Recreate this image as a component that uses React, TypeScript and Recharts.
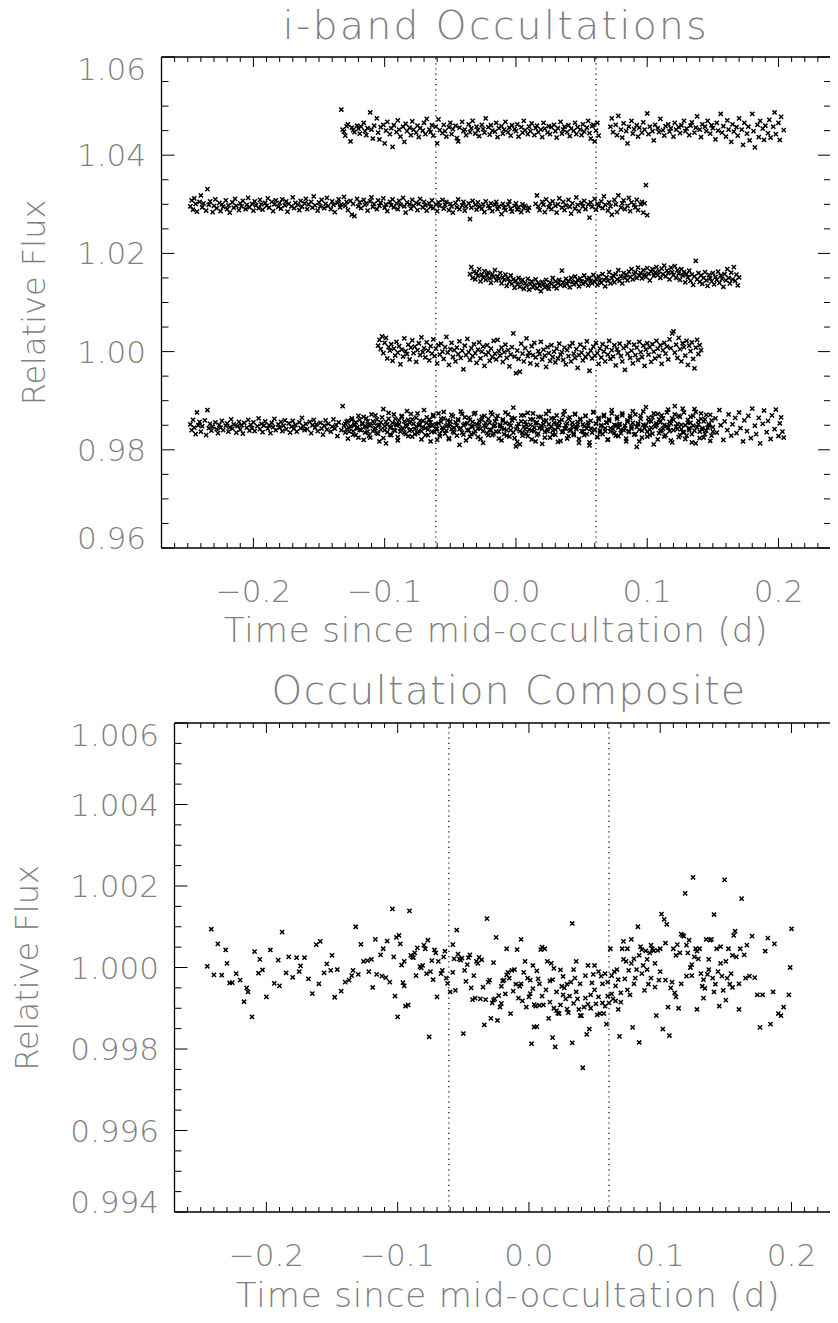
import { ScatterChart, Scatter, XAxis, YAxis, ReferenceLine } from "recharts";

// Top panel: time in milli-days, flux offset from 1 in units of 1e-4
const bandA = [
  -133,493, -132,452, -131,448, -130,440, -129,459, -128,463, -126,428, -125,456, -124,451, -123,447, -121,460, -120,454,
  -119,444, -118,458, -116,466, -115,449, -114,441, -113,455, -111,487, -110,452, -109,434, -108,460, -106,475, -105,446,
  -104,432, -103,457, -101,462, -100,424, -99,450, -98,468, -96,443, -95,455, -94,417, -93,461, -91,447, -90,471,
  -89,452, -88,438, -86,458, -85,427, -84,464, -83,449, -81,456, -80,441, -79,469, -78,452, -76,446, -75,460,
  -74,437, -73,455, -71,450, -70,466, -69,443, -68,474, -66,452, -65,447, -64,461, -63,440, -61,458, -60,424,
  -59,473, -58,451, -56,445, -55,462, -54,449, -53,438, -51,457, -50,466, -49,443, -48,453, -46,460, -45,435,
  -44,428, -43,456, -41,468, -40,449, -39,452, -38,441, -36,463, -35,447, -34,455, -33,470, -31,444, -30,458,
  -29,451, -28,439, -26,462, -25,453, -24,446, -23,475, -21,457, -20,442, -19,461, -18,450, -16,448, -15,466,
  -14,437, -13,455, -11,459, -10,444, -9,452, -8,468, -6,447, -5,456, -4,440, -3,461, -1,453, 0,449,
  1,463, 2,438, 4,457, 5,446, 6,470, 7,451, 9,443, 10,458, 11,449, 12,465, 14,441, 15,455,
  16,460, 17,447, 19,452, 20,437, 21,466, 22,454, 24,446, 25,459, 26,443, 27,457, 29,462, 30,449,
  31,436, 32,455, 34,468, 35,444, 36,452, 37,458, 39,447, 40,461, 41,439, 42,454, 44,450, 45,466,
  46,443, 47,457, 49,452, 50,441, 51,463, 52,448, 54,456, 55,470, 56,445, 57,434, 58,459, 59,462,
  60,428, 61,450, 62,466, 63,440,
  72,458, 73,475, 74,447, 76,462, 77,441, 78,480, 80,452, 81,436, 82,465, 84,449, 85,424, 86,458,
  88,470, 89,444, 90,453, 92,461, 93,438, 94,456, 96,446, 97,467, 98,452, 100,485, 101,443, 102,458,
  104,449, 105,430, 106,462, 108,455, 109,447, 110,474, 112,451, 113,440, 114,459, 116,463, 117,448, 118,455,
  120,438, 121,466, 122,452, 124,457, 125,445, 126,461, 128,470, 129,449, 130,454, 132,441, 133,460, 134,467,
  136,446, 137,456, 138,479, 140,452, 141,437, 142,463, 144,458, 145,449, 146,470, 148,444, 149,461, 150,455,
  152,432, 153,466, 154,450, 156,484, 157,446, 158,459, 160,438, 161,471, 162,452, 164,427, 165,463, 166,448,
  168,457, 169,440, 170,475, 172,452, 173,421, 174,466, 176,444, 177,458, 178,430, 180,484, 181,449, 182,416,
  184,462, 185,437, 186,470, 188,454, 189,431, 190,460, 192,445, 193,472, 194,436, 196,458, 197,487, 198,443,
  200,466, 201,431, 202,478, 204,451,
];

const bandB = [
  -248,296, -247,308, -246,289, -245,312, -244,301, -243,285, -241,305, -240,318, -239,294, -238,302, -236,287, -235,331,
  -234,299, -233,306, -231,284, -230,297, -229,310, -228,292, -226,303, -225,286, -224,300, -223,295, -221,308, -220,290,
  -219,298, -218,283, -216,304, -215,293, -214,311, -213,297, -211,288, -210,302, -209,296, -208,307, -206,290, -205,299,
  -204,313, -203,294, -201,301, -200,287, -199,306, -198,298, -196,292, -195,309, -194,300, -193,289, -191,303, -190,297,
  -189,312, -188,293, -186,305, -185,286, -184,300, -183,308, -181,295, -180,303, -179,291, -178,310, -176,298, -175,306,
  -174,285, -173,301, -171,296, -170,314, -169,292, -168,303, -166,299, -165,288, -164,307, -163,295, -161,302, -160,311,
  -159,290, -158,300, -156,305, -155,293, -154,316, -153,298, -151,287, -150,304, -149,296, -148,309, -146,292, -145,301,
  -144,313, -143,297, -141,290, -140,306, -139,299, -138,284, -136,303, -135,310, -134,294, -133,300, -131,315, -130,297,
  -129,305, -128,288, -126,307, -125,279, -124,301, -123,276, -121,311, -120,296, -119,304, -118,292, -116,309, -115,299,
  -114,302, -113,287, -111,306, -110,314, -109,295, -108,301, -106,290, -105,308, -104,297, -103,303, -101,312, -100,293,
  -99,300, -98,286, -96,305, -95,298, -94,310, -93,294, -91,302, -90,290, -89,307, -88,299, -86,313, -85,296,
  -84,283, -83,304, -81,300, -80,291, -79,309, -78,297, -76,303, -75,288, -74,301, -73,311, -71,294, -70,305,
  -69,298, -68,287, -66,302, -65,295, -64,308, -63,292, -61,300, -60,286, -59,304, -58,297, -56,309, -55,291,
  -54,299, -53,305, -51,288, -50,301, -49,296, -48,283, -46,303, -45,294, -44,310, -43,290, -41,298, -40,305,
  -39,287, -38,296, -36,302, -35,270, -34,293, -33,307, -31,299, -30,289, -29,304, -28,295, -26,291, -25,300,
  -24,284, -23,306, -21,297, -20,292, -19,302, -18,286, -16,299, -15,305, -14,290, -13,296, -11,280, -10,301,
  -9,293, -8,288, -6,299, -5,306, -4,291, -3,285, -1,297, 0,302, 1,289, 2,294, 4,284, 5,300,
  6,292, 7,297, 9,287, 10,293, 15,301, 16,318, 17,296, 18,288, 20,305, 21,299, 22,284, 23,310,
  25,294, 26,302, 27,290, 28,306, 30,297, 31,283, 32,300, 33,312, 35,293, 36,305, 37,288, 38,298,
  40,309, 41,295, 42,281, 43,302, 45,291, 46,314, 47,299, 48,286, 50,303, 51,296, 52,307, 53,290,
  55,300, 56,273, 57,304, 58,295, 60,311, 61,289, 62,301, 63,297, 65,306, 66,292, 67,316, 68,299,
  70,287, 71,304, 72,296, 73,279, 75,309, 76,300, 77,284, 78,318, 80,293, 81,302, 82,308, 83,290,
  85,297, 86,313, 87,286, 88,304, 90,299, 91,294, 92,309, 93,288, 95,300, 96,305, 97,283, 98,302,
  99,339, 100,278,
];

const bandC = [
  -35,158, -34,172, -33,150, -32,163, -31,147, -30,160, -29,154, -28,168, -27,143, -26,157, -25,151, -24,164,
  -23,146, -22,155, -21,161, -20,149, -19,140, -18,158, -17,152, -16,166, -15,145, -14,153, -13,148, -12,160,
  -11,139, -10,151, -9,146, -8,157, -7,134, -6,149, -5,142, -4,155, -3,138, -2,147, -1,130, 0,144,
  1,137, 2,150, 3,132, 4,141, 5,146, 6,128, 7,139, 8,135, 9,148, 10,126, 11,138, 12,143,
  13,131, 14,136, 15,147, 16,129, 17,140, 18,134, 19,123, 20,142, 21,137, 22,131, 23,146, 24,135,
  25,128, 26,141, 27,138, 28,150, 29,133, 30,143, 31,129, 32,139, 33,146, 34,136, 35,165, 36,141,
  37,134, 38,148, 39,138, 40,144, 41,131, 42,150, 43,142, 44,137, 45,153, 46,140, 47,146, 48,133,
  49,149, 50,143, 51,138, 52,155, 53,141, 54,147, 55,135, 56,150, 57,144, 58,139, 59,156, 60,142,
  61,148, 62,136, 63,153, 64,145, 65,140, 66,158, 67,146, 68,133, 69,151, 70,144, 71,162, 72,139,
  73,149, 74,155, 75,141, 76,158, 77,147, 78,166, 79,144, 80,153, 81,139, 82,160, 83,150, 84,156,
  85,145, 86,163, 87,152, 88,168, 89,147, 90,158, 91,162, 92,150, 93,171, 94,155, 95,160, 96,149,
  97,166, 98,157, 99,152, 100,170, 101,159, 102,145, 103,163, 104,168, 105,154, 106,161, 107,172, 108,156,
  109,164, 110,150, 111,169, 112,158, 113,175, 114,153, 115,165, 116,160, 117,147, 118,171, 119,162, 120,156,
  121,174, 122,150, 123,166, 124,159, 125,146, 126,168, 127,155, 128,162, 129,141, 130,158, 131,151, 132,165,
  133,144, 134,157, 135,136, 136,153, 137,185, 138,147, 139,160, 140,142, 141,155, 142,138, 143,150, 144,162,
  145,145, 146,134, 147,156, 148,149, 149,143, 150,160, 151,137, 152,152, 153,146, 154,163, 155,140, 156,155,
  157,148, 158,132, 159,158, 160,145, 161,168, 162,150, 163,139, 164,161, 165,147, 166,172, 167,144, 168,157,
  169,135, 170,151,
];

const bandD = [
  -105,12, -104,24, -103,5, -102,31, -101,-3, -100,18, -99,28, -98,-14, -97,9, -96,2, -95,15, -94,-19,
  -93,6, -92,-8, -91,20, -90,-2, -89,11, -88,-26, -87,4, -86,-10, -85,27, -84,1, -83,-5, -82,14,
  -81,-16, -80,8, -79,23, -78,-3, -77,10, -76,-21, -75,3, -74,17, -73,-7, -72,29, -71,-1, -70,7,
  -69,-12, -68,19, -67,2, -66,-18, -65,11, -64,-4, -63,25, -62,-9, -61,6, -60,-24, -59,13, -58,-6,
  -57,16, -56,0, -55,-15, -54,9, -53,30, -52,-2, -51,-27, -50,5, -49,18, -48,-11, -47,3, -46,-20,
  -45,8, -44,-5, -43,21, -42,-13, -41,2, -40,-36, -39,12, -38,-7, -37,26, -36,-1, -35,-17, -34,7,
  -33,-9, -32,15, -31,-3, -30,-23, -29,4, -28,19, -27,-14, -26,0, -25,10, -24,-29, -23,-6, -22,13,
  -21,-2, -20,-19, -19,6, -18,-11, -17,22, -16,-4, -15,-16, -14,24, -13,1, -12,-8, -11,8, -10,-21,
  -9,-1, -8,14, -7,-13, -6,3, -5,-30, -4,-6, -3,9, -2,37, -1,-10, 0,-44, 1,2, 2,-15,
  3,-41, 4,16, 5,-4, 6,-20, 7,7, 8,27, 9,-9, 10,-2, 11,-24, 12,11, 13,-7, 14,18,
  15,-12, 16,-27, 17,1, 18,-5, 19,20, 20,-16, 21,4, 22,-8, 23,-31, 24,9, 25,-3, 26,-19,
  27,13, 28,-11, 29,0, 30,-22, 31,6, 32,-14, 33,16, 34,-6, 35,-1, 36,-17, 37,8, 38,-26,
  39,3, 40,-9, 41,11, 42,-20, 43,17, 44,-4, 45,-13, 46,5, 47,-33, 48,-7, 49,14, 50,-2,
  51,-18, 52,8, 53,-11, 54,21, 55,-5, 56,-39, 57,2, 58,-14, 59,10, 60,-8, 61,18, 62,-3,
  63,-25, 64,6, 65,-12, 66,15, 67,0, 68,-20, 69,9, 70,-6, 71,22, 72,-15, 73,3, 74,-10,
  75,13, 76,-28, 77,5, 78,-2, 79,16, 80,-9, 81,-20, 82,7, 83,-37, 84,11, 85,-4, 86,19,
  87,-13, 88,2, 89,-24, 90,14, 91,-7, 92,8, 93,-17, 94,20, 95,-1, 96,-11, 97,12, 98,-29,
  99,4, 100,17, 101,-6, 102,9, 103,-21, 104,15, 105,0, 106,-14, 107,22, 108,6, 109,-9, 110,13,
  111,-25, 112,3, 113,18, 114,-4, 115,10, 116,-16, 117,25, 118,7, 119,37, 120,41, 121,-2, 122,14,
  123,-13, 124,28, 125,5, 126,-20, 127,17, 128,9, 129,-8, 130,22, 131,-27, 132,12, 133,1, 134,19,
  135,-15, 136,-34, 137,8, 138,24, 139,-5, 140,13, 141,3,
];

const bandE1 = [
  -248,-148, -247,-160, -246,-139, -245,-155, -244,-168, -243,-124, -242,-150, -241,-143, -240,-163, -239,-152,
  -237,-140, -236,-170, -235,-119, -234,-156, -233,-147, -232,-161, -231,-153, -229,-144, -228,-158, -227,-166,
  -226,-149, -225,-155, -224,-141, -223,-160, -221,-151, -220,-146, -219,-163, -218,-154, -217,-138, -216,-157,
  -215,-148, -213,-165, -212,-152, -211,-143, -210,-159, -209,-150, -208,-167, -207,-145, -205,-155, -204,-139,
  -203,-161, -202,-149, -201,-156, -200,-144, -199,-162, -197,-152, -196,-136, -195,-158, -194,-147, -193,-164,
  -192,-151, -191,-142, -189,-157, -188,-150, -187,-166, -186,-145, -185,-154, -184,-137, -183,-160, -181,-148,
  -180,-155, -179,-143, -178,-162, -177,-151, -176,-140, -175,-158, -173,-146, -172,-165, -171,-153, -170,-141,
  -169,-157, -168,-149, -167,-163, -165,-144, -164,-156, -163,-135, -162,-152, -161,-160, -160,-147, -159,-158,
  -157,-143, -156,-166, -155,-150, -154,-139, -153,-155, -152,-148, -151,-162, -149,-145, -148,-157, -147,-169,
  -146,-151, -145,-140, -144,-159, -143,-147, -141,-163, -140,-153, -139,-138, -138,-157, -137,-149, -136,-172,
  -135,-144, -133,-160, -132,-111, -131,-151, -130,-165, -129,-143, -128,-177, -127,-156, -125,-139, -124,-162,
  -123,-148, -122,-170, -121,-154, -120,-131, -119,-159, -117,-146, -116,-180, -115,-152, -114,-136, -113,-163,
  -112,-149, -111,-175, -109,-142, -108,-158, -107,-130, -106,-166, -105,-151, -104,-183, -103,-144, -101,-117,
  -100,-160, -99,-187, -98,-148, -97,-137, -96,-169, -95,-154, -93,-128, -92,-161, -91,-147, -90,-174,
  -89,-140, -88,-157, -87,-133, -85,-165, -84,-150, -83,-121, -82,-172, -81,-145, -80,-159, -79,-138,
  -77,-168, -76,-153, -75,-126, -74,-162, -73,-148, -72,-179, -71,-141, -69,-156, -68,-134, -67,-170,
  -66,-151, -65,-144, -64,-163, -63,-129, -61,-158, -60,-180, -59,-146, -58,-167, -57,-137, -56,-155,
  -55,-123, -53,-161, -52,-149, -51,-176, -50,-142, -49,-158, -48,-132, -47,-165, -45,-151, -44,-140,
  -43,-190, -42,-156, -41,-127, -40,-169, -39,-147, -37,-160, -36,-135, -35,-173, -34,-152, -33,-143,
  -32,-166, -31,-125, -29,-157, -28,-148, -27,-178, -26,-139, -25,-162, -24,-131, -23,-154, -21,-170,
  -20,-145, -19,-160, -18,-128, -17,-167, -16,-150, -15,-137, -13,-163, -12,-152, -11,-181, -10,-141,
  -9,-158, -8,-124, -7,-171, -5,-147, -4,-160, -3,-135, -2,-114, -1,-176, 0,-193, 1,-153,
  3,-189, 4,-142, 5,-165, 6,-130, 7,-158, 8,-149, 9,-172, 11,-138, 12,-161, 13,-126,
  14,-155, 15,-183, 16,-144, 17,-167, 19,-133, 20,-157, 21,-148, 22,-175, 23,-140, 24,-162,
  25,-121, 27,-153, 28,-169, 29,-136, 30,-159, 31,-147, 32,-184, 33,-142, 35,-164, 36,-129,
  37,-156, 38,-150, 39,-177, 40,-137, 41,-161, 43,-145, 44,-170, 45,-127, 46,-158, 47,-149,
  48,-186, 49,-139, 51,-163, 52,-152, 53,-131, 54,-168, 55,-144, 56,-191, 57,-157, 59,-123,
  60,-160, 61,-147, 62,-174, 63,-138, 64,-165, 65,-150, 67,-132, 68,-162, 69,-145, 70,-179,
  71,-141, 72,-156, 73,-126, 75,-166, 76,-151, 77,-137, 78,-172, 79,-148, 80,-160, 81,-130,
  83,-157, 84,-183, 85,-143, 86,-164, 87,-135, 88,-153, 89,-121, 91,-168, 92,-194, 93,-146,
  94,-159, 95,-131, 96,-175, 97,-149, 99,-113, 100,-163, 101,-142, 102,-170, 103,-155, 104,-134,
  105,-189, 107,-150, 108,-127, 109,-166, 110,-144, 111,-160, 112,-136, 113,-173, 115,-152, 116,-118,
  117,-162, 118,-147, 119,-185, 120,-139, 121,-111, 123,-158, 124,-131, 125,-170, 126,-149, 127,-164,
  128,-124, 129,-178, 131,-145, 132,-160, 133,-133, 134,-168, 135,-151, 136,-117, 137,-187, 139,-141,
  140,-163, 141,-126, 142,-156, 143,-175, 144,-138, 145,-161, 147,-148, 148,-129, 149,-171, 150,-154,
  152,-136, 153,-165, 155,-119, 156,-150, 158,-180, 159,-142, 161,-160, 162,-128, 164,-171, 165,-148,
  167,-135, 168,-166, 170,-124, 171,-156, 173,-183, 174,-140, 176,-162, 177,-131, 179,-176, 180,-116,
  182,-151, 183,-168, 185,-135, 186,-187, 188,-147, 189,-120, 191,-164, 192,-141, 194,-178, 195,-130,
  197,-158, 198,-118, 200,-172, 201,-146, 202,-134, 203,-163, 204,-175,
];

const bandE2 = [
  -130,-147, -129,-158, -128,-141, -127,-163, -126,-152, -125,-136, -124,-169, -123,-150, -122,-144, -121,-157,
  -120,-175, -119,-139, -118,-160, -117,-148, -116,-133, -115,-165, -114,-154, -113,-142, -112,-171, -111,-151,
  -110,-128, -109,-162, -108,-146, -107,-156, -106,-138, -105,-167, -104,-149, -103,-159, -102,-134, -101,-176,
  -100,-152, -99,-143, -98,-164, -97,-125, -96,-155, -95,-170, -94,-145, -93,-160, -92,-137, -91,-150,
  -90,-181, -89,-148, -88,-163, -87,-131, -86,-157, -85,-142, -84,-168, -83,-153, -82,-139, -81,-161,
  -80,-127, -79,-173, -78,-147, -77,-158, -76,-135, -75,-166, -74,-150, -73,-141, -72,-162, -71,-154,
  -70,-119, -69,-170, -68,-145, -67,-159, -66,-138, -65,-183, -64,-151, -63,-132, -62,-164, -61,-148,
  -60,-157, -59,-126, -58,-172, -57,-143, -56,-160, -55,-136, -54,-167, -53,-152, -52,-140, -51,-178,
  -50,-149, -49,-129, -48,-163, -47,-155, -46,-144, -45,-171, -44,-138, -43,-158, -42,-122, -41,-165,
  -40,-150, -39,-134, -38,-181, -37,-146, -36,-160, -35,-139, -34,-168, -33,-153, -32,-127, -31,-162,
  -30,-148, -29,-174, -28,-141, -27,-157, -26,-133, -25,-186, -24,-151, -23,-145, -22,-166, -21,-137,
  -20,-159, -19,-124, -18,-170, -17,-152, -16,-142, -15,-163, -14,-131, -13,-177, -12,-149, -11,-156,
  -10,-138, -9,-168, -8,-145, -7,-160, -6,-128, -5,-173, -4,-151, -3,-140, -2,-165, -1,-136,
  0,-158, 1,-184, 2,-147, 3,-162, 4,-130, 5,-171, 6,-153, 7,-143, 8,-167, 9,-125,
  10,-159, 11,-149, 12,-179, 13,-138, 14,-162, 15,-146, 16,-170, 17,-133, 18,-156, 19,-151,
  20,-188, 21,-141, 22,-164, 23,-127, 24,-158, 25,-148, 26,-175, 27,-136, 28,-161, 29,-145,
  30,-169, 31,-130, 32,-155, 33,-150, 34,-182, 35,-139, 36,-163, 37,-121, 38,-157, 39,-146,
  40,-172, 41,-134, 42,-160, 43,-152, 44,-167, 45,-128, 46,-154, 47,-143, 48,-178, 49,-137,
  50,-162, 51,-148, 52,-170, 53,-131, 54,-157, 55,-150, 56,-185, 57,-141, 58,-165, 59,-124,
  60,-159, 61,-146, 62,-174, 63,-135, 64,-161, 65,-152, 66,-168, 67,-129, 68,-156, 69,-144,
  70,-180, 71,-138, 72,-163, 73,-119, 74,-158, 75,-149, 76,-171, 77,-133, 78,-155, 79,-147,
  80,-166, 81,-126, 82,-160, 83,-151, 84,-177, 85,-140, 86,-162, 87,-131, 88,-157, 89,-145,
  90,-169, 91,-128, 92,-154, 93,-148, 94,-183, 95,-137, 96,-161, 97,-122, 98,-156, 99,-150,
  100,-173, 101,-135, 102,-159, 103,-142, 104,-167, 105,-126, 106,-153, 107,-146, 108,-179, 109,-138,
  110,-162, 111,-130, 112,-157, 113,-149, 114,-170, 115,-124, 116,-155, 117,-143, 118,-181, 119,-136,
  120,-160, 121,-128, 122,-153, 123,-147, 124,-174, 125,-133, 126,-158, 127,-116, 128,-164, 129,-150,
  130,-171, 131,-139, 132,-156, 133,-145, 134,-185, 135,-131, 136,-161, 137,-123, 138,-154, 139,-148,
  140,-176, 141,-137, 142,-159, 143,-142, 144,-168, 145,-129, 146,-155, 147,-151, 148,-182, 149,-140,
  150,-163,
];

// Bottom panel: time in milli-days, flux offset from 1 in units of 1e-5
const composite = [
  -245,3, -242,94, -240,-18, -237,58, -234,-19, -231,43, -228,-38, -226,-37, -223,-15, -220,-31, -217,-84, -214,-60,
  -211,-121, -209,39, -206,-14, -203,-6, -200,-72, -197,43, -194,-39, -191,18, -188,87, -185,-13, -183,26, -180,-24,
  -177,24, -174,4, -171,24, -168,-28, -165,-64, -162,56, -159,64, -156,-13, -154,9, -151,-7, -148,-73, -146,-5,
  -143,-58, -140,-36, -137,-31, -134,-7, -132,100, -130,-17, -128,57, -126,15, -123,17, -122,-10, -119,-49, -117,69,
  -116,-17, -113,31, -112,-21, -111,46, -109,-25, -108,65, -106,-36, -104,144, -103,26, -102,-70, -101,74, -100,-121,
  -99,79, -98,58, -97,6, -96,-37, -95,15, -94,-95, -92,-92, -91,139, -89,26, -88,24, -87,36, -85,48,
  -83,2, -82,-1, -81,5, -79,46, -78,-15, -77,67, -76,-170, -75,-10, -74,17, -72,43, -71,36, -70,-72,
  -69,15, -67,-15, -66,-7, -65,26, -63,-26, -62,-39, -60,-60, -58,56, -57,21, -56,-56, -55,92, -53,21,
  -52,18, -51,23, -50,-162, -49,-7, -48,-34, -47,7, -46,24, -45,31, -44,-50, -43,-79, -41,-75, -40,15,
  -39,10, -38,25, -37,-77, -36,19, -34,-141, -33,-79, -32,120, -31,-36, -30,-31, -29,-125, -28,-87, -27,-80,
  -26,-77, -25,74, -24,-130, -23,-69, -22,-97, -21,-46, -20,-33, -19,-31, -18,-65, -17,46, -16,-12, -15,-26,
  -14,-113, -13,-7, -11,-5, -10,-41, -9,44, -8,-75, -7,-46, -6,69, -5,-82, -3,15, -2,-97, -1,-26,
  0,-72, 1,-31, 2,-187, 3,5, 4,-146, 4,-91, 5,-95, 6,-145, 7,-28, 8,-93, 9,44, 10,50,
  11,-92, 12,46, 14,15, 15,-125, 16,-33, 17,10, 18,-172, 19,-100, 19,-2, 20,-195, 21,-106, 22,-112,
  23,-113, 24,-6, 25,-46, 26,-67, 28,-77, 29,-41, 29,-102, 30,-111, 32,-36, 33,108, 33,-185, 34,-5,
  35,-26, 36,15, 37,-77, 38,-103, 39,-118, 40,-118, 41,-246, 42,-97, 43,-75, 44,-164, 45,5, 46,-151,
  47,-67, 48,-38, 49,-17, 50,5, 51,-89, 52,-116, 53,-10, 54,-113, 55,-21, 56,-87, 57,-113, 58,-15,
  59,-139, 60,-36, 61,-87, 62,46, 63,-65, 64,-77, 65,-10, 66,-82, 67,-5, 68,-103, 69,-169, 70,-62,
  71,46, 72,64, 73,-28, 74,15, 75,46, 76,-7, 77,-67, 78,69, 79,-147, 80,21, 81,-26, 82,-5,
  83,100, 84,-184, 85,51, 86,44, 87,5, 88,-56, 89,41, 90,-5, 91,-41, 92,36, 93,-26, 94,46,
  95,41, 96,-48, 97,-118, 98,42, 99,-31, 100,46, 101,131, 102,-151, 103,118, 104,-31, 105,106, 106,-97,
  107,-167, 109,-36, 110,46, 111,-62, 112,-72, 113,56, 114,-100, 115,36, 116,82, 117,79, 118,77, 119,182,
  120,-21, 121,36, 122,67, 123,0, 124,7, 125,221, 126,26, 127,46, 128,-103, 129,21, 130,46, 131,-15,
  132,-46, 133,-75, 134,-51, 135,69, 136,-17, 137,-5, 138,67, 139,69, 140,-26, 141,130, 142,-41, 143,46,
  144,-10, 145,-95, 146,51, 147,-21, 148,-56, 149,215, 150,15, 151,-26, 152,46, 153,-41, 154,-15, 155,-49,
  156,79, 157,89, 158,26, 160,-103, 161,46, 162,169, 164,31, 165,-26, 168,-21, 170,77, 174,-67, 176,-147,
  178,-67, 182,72, 184,-139, 187,58, 190,-113, 192,-118, 194,-97, 198,-67, 199,0, 200,95,
  -230,10, -215,-50, -205,20, -190,-45, -175,-10, -160,-40, -150,30, -135,-20, -120,20, -95,-45,
  -90,30, -86,-20, -80,55, -73,-30, -64,40, -58,-12, -54,33, -42,-20, -35,-48, -27,12,
  -21,-88, -17,-18, -12,-58, -6,-40, -4,-12, 1,-64, 3,-52, 6,-8, 8,-40, 10,-70,
  13,-55, 16,-85, 18,-30, 21,-60, 24,-92, 26,-22, 27,-50, 31,-70, 34,-88, 36,-60,
  39,-40, 43,-20, 45,-90, 47,-100, 50,-55, 53,-72, 56,-40, 58,-95, 60,-70, 63,-20,
  66,-45, 68,-30, 70,-85, 72,20, 75,-55, 78,10, 80,-40, 84,30, 86,-15, 90,20,
  93,55, 96,10, 100,-10, 104,60, 108,-50, 112,30, 116,-40, 120,55, 124,-20, 128,40,
  133,-30, 137,20, 141,-60, 146,10, 150,-80, 155,30, 160,-40, 166,55, 172,-25, 180,40, 186,-60,
];

const xMajorLabels = [-0.2, -0.1, 0.0, 0.1, 0.2];
const topYLabels = [0.96, 0.98, 1.0, 1.02, 1.04, 1.06];
const botYLabels = [0.994, 0.996, 0.998, 1.0, 1.002, 1.004, 1.006];
const eclipseEdges = [-0.061, 0.061];

const X_DOMAIN: [number, number] = [-0.27, 0.24];
const TOP_Y: [number, number] = [0.96, 1.06];
const BOT_Y: [number, number] = [0.994, 1.006];

// minor ticks: every 0.01 d on x, 0.005 / 0.0005 on y
const xTicks = Array.from({ length: 52 }, (_, i) => (i - 27) / 100);
const topYTicks = Array.from({ length: 21 }, (_, i) => (960 + i * 5) / 1000);
const botYTicks = Array.from({ length: 25 }, (_, i) => (9940 + i * 5) / 10000);

const FONT = "'DejaVu Sans', sans-serif";
const TEXT = "#808080";

function pairs(flat: number[], yScale: number) {
  const out: { x: number; y: number }[] = [];
  for (let i = 0; i < flat.length; i += 2) {
    out.push({ x: flat[i] / 1000, y: 1 + flat[i + 1] / yScale });
  }
  return out;
}

const topSeries = [bandA, bandB, bandC, bandD, bandE1, bandE2].map((b) => pairs(b, 10000));
const botSeries = pairs(composite, 100000);

function Cross(props: any) {
  const { cx, cy } = props;
  if (cx == null || cy == null) return null;
  const r = 2.1;
  return (
    <path
      d={`M${cx - r},${cy - r}L${cx + r},${cy + r}M${cx - r},${cy + r}L${cx + r},${cy - r}`}
      stroke="#000"
      strokeWidth={1.5}
      fill="none"
    />
  );
}

const near = (a: number, b: number) => Math.abs(a - b) < 1e-9;
const fmt = (v: number, d: number) => {
  const s = Math.abs(v).toFixed(d);
  return v < -1e-9 ? "\u2212" + s : s;
};

function XTick(props: any) {
  const { x, y, payload, side } = props;
  const v = payload.value;
  const major = xMajorLabels.some((m) => near(m, v));
  const len = major ? 10 : 5;
  const dir = side === "bottom" ? -1 : 1;
  return (
    <g>
      <line x1={x} x2={x} y1={y} y2={y + dir * len} stroke="#000" strokeWidth={1} />
      {side === "bottom" && major && (
        <text x={x} y={y + 53.5} textAnchor="middle" fontSize={31} fontFamily={FONT} fontWeight={200} fill={TEXT}>
          {fmt(v, 1)}
        </text>
      )}
    </g>
  );
}

function YTick(props: any) {
  const { x, y, payload, side, labels, domain, digits } = props;
  const v = payload.value;
  const major = labels.some((m: number) => near(m, v));
  const len = major ? 13 : 7;
  const dir = side === "left" ? 1 : -1;
  let base = y + 11;
  if (near(v, domain[1])) base = y + 23;
  if (near(v, domain[0])) base = y + 1;
  return (
    <g>
      <line x1={x} x2={x + dir * len} y1={y} y2={y} stroke="#000" strokeWidth={1} />
      {side === "left" && major && (
        <text x={x - 15.5} y={base} textAnchor="end" fontSize={31} fontFamily={FONT} fontWeight={200} fill={TEXT}>
          {fmt(v, digits)}
        </text>
      )}
    </g>
  );
}

function Panel({
  series,
  yDomain,
  yTicks,
  yLabels,
  digits,
  width,
  height,
  margin,
}: {
  series: { x: number; y: number }[][];
  yDomain: [number, number];
  yTicks: number[];
  yLabels: number[];
  digits: number;
  width: number;
  height: number;
  margin: { top: number; right: number; bottom: number; left: number };
}) {
  const axisLine = { stroke: "#000", strokeWidth: 1.3 };
  return (
    <ScatterChart width={width} height={height} margin={margin}>
      <XAxis
        xAxisId="b"
        type="number"
        dataKey="x"
        orientation="bottom"
        domain={X_DOMAIN}
        ticks={xTicks}
        interval={0}
        allowDataOverflow
        height={1}
        tickSize={0}
        tickMargin={0}
        tickLine={false}
        axisLine={axisLine}
        tick={(p: any) => <XTick {...p} side="bottom" />}
      />
      <XAxis
        xAxisId="t"
        type="number"
        dataKey="x"
        orientation="top"
        domain={X_DOMAIN}
        ticks={xTicks}
        interval={0}
        allowDataOverflow
        height={1}
        tickSize={0}
        tickMargin={0}
        tickLine={false}
        axisLine={axisLine}
        tick={(p: any) => <XTick {...p} side="top" />}
      />
      <YAxis
        yAxisId="l"
        type="number"
        dataKey="y"
        orientation="left"
        domain={yDomain}
        ticks={yTicks}
        interval={0}
        allowDataOverflow
        width={1}
        tickSize={0}
        tickMargin={0}
        tickLine={false}
        axisLine={axisLine}
        tick={(p: any) => <YTick {...p} side="left" labels={yLabels} domain={yDomain} digits={digits} />}
      />
      <YAxis
        yAxisId="r"
        type="number"
        dataKey="y"
        orientation="right"
        domain={yDomain}
        ticks={yTicks}
        interval={0}
        allowDataOverflow
        width={1}
        tickSize={0}
        tickMargin={0}
        tickLine={false}
        axisLine={axisLine}
        tick={(p: any) => <YTick {...p} side="right" labels={yLabels} domain={yDomain} digits={digits} />}
      />
      {eclipseEdges.map((e) => (
        <ReferenceLine
          key={e}
          x={e}
          xAxisId="b"
          yAxisId="l"
          stroke="#000"
          strokeWidth={1.2}
          strokeDasharray="1.2 4"
        />
      ))}
      {series.map((s, i) => (
        <Scatter
          key={i}
          data={s}
          xAxisId="b"
          yAxisId="l"
          shape={Cross}
          isAnimationActive={false}
        />
      ))}
    </ScatterChart>
  );
}

export default function App() {
  const titleStyle = { fontFamily: FONT, fontWeight: 200, fill: TEXT } as const;
  return (
    <div
      style={{
        position: "relative",
        width: 838,
        height: 1323,
        marginLeft: -8,
        marginTop: -8,
        overflow: "hidden",
        background: "#fff",
      }}
    >
      <div style={{ position: "absolute", left: 0, top: 0 }}>
        <Panel
          series={topSeries}
          yDomain={TOP_Y}
          yTicks={topYTicks}
          yLabels={topYLabels}
          digits={2}
          width={838}
          height={660}
          margin={{ top: 56, right: 6, bottom: 111, left: 160.5 }}
        />
      </div>
      <div style={{ position: "absolute", left: 0, top: 660 }}>
        <Panel
          series={[botSeries]}
          yDomain={BOT_Y}
          yTicks={botYTicks}
          yLabels={botYLabels}
          digits={3}
          width={860}
          height={663}
          margin={{ top: 62, right: 15, bottom: 110, left: 173.5 }}
        />
      </div>
      <svg
        width={838}
        height={1323}
        style={{ position: "absolute", left: 0, top: 0, pointerEvents: "none" }}
      >
        <text x={496} y={39} textAnchor="middle" fontSize={39} letterSpacing={2.5} {...titleStyle}>
          i-band Occultations
        </text>
        <text x={496} y={642} textAnchor="middle" fontSize={34} letterSpacing={0.9} {...titleStyle}>
          Time since mid-occultation (d)
        </text>
        <text transform="translate(45,302.5) rotate(-90)" textAnchor="middle" fontSize={32} {...titleStyle}>
          Relative Flux
        </text>
        <text x={509} y={704} textAnchor="middle" fontSize={39} letterSpacing={1.5} {...titleStyle}>
          Occultation Composite
        </text>
        <text x={508} y={1307} textAnchor="middle" fontSize={34} letterSpacing={0.9} {...titleStyle}>
          Time since mid-occultation (d)
        </text>
        <text transform="translate(37.5,968) rotate(-90)" textAnchor="middle" fontSize={32} {...titleStyle}>
          Relative Flux
        </text>
      </svg>
    </div>
  );
}
